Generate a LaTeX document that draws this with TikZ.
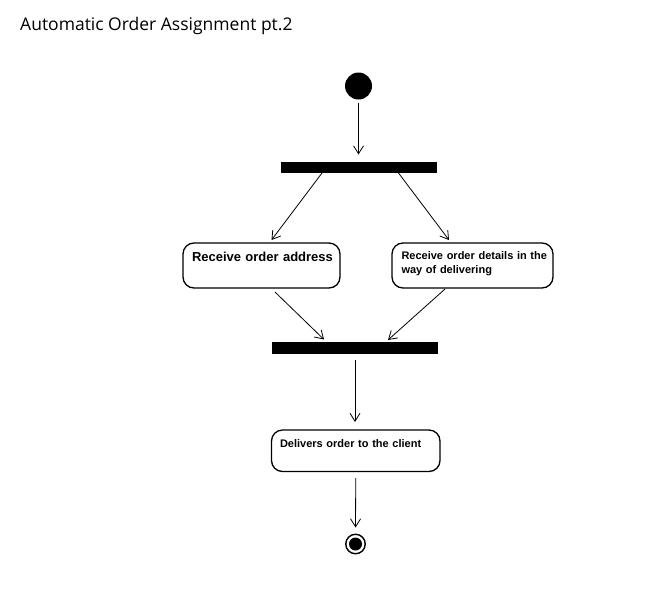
\documentclass[tikz,border=0pt]{standalone}
\usepackage{fontspec}
\setmainfont{Liberation Sans}
\newfontfamily\titlefont{Open Sans}
\usetikzlibrary{arrows.meta,calc}
\begin{document}
\begin{tikzpicture}[x=1pt,y=-1pt,
  arr/.style={draw, line width=0.8pt, -{Straight Barb[length=8pt,width=10pt,line width=0.8pt]}},
  syncbar/.style={fill=black, draw=none, inner sep=0pt, outer sep=0pt, anchor=north west},
  act/.style={draw, line width=1.3pt, rounded corners=11pt, anchor=north west, inner xsep=4pt, inner ysep=4pt, align=left, outer sep=0pt},
  acttext/.style={font=\bfseries\fontsize{11}{13.5}\selectfont}
]
\useasboundingbox (0,0) rectangle (660,603);
\node[anchor=base west, inner sep=0pt, font=\titlefont\fontsize{17.5}{21}\selectfont] (title) at (20,30) {Automatic Order Assignment pt.2};

\node[circle, fill=black, minimum size=27pt, inner sep=0pt] (start) at (358.5,86) {};
\node[syncbar, minimum width=156pt, minimum height=11pt] (fork) at (281,162) {};

\node[act, font=\bfseries\fontsize{13}{15}\selectfont, text width=149pt, text height=14.5pt, text depth=22.5pt] (b1) at (183,243) {\hspace*{5pt}Receive order address};
\node[act, acttext, text width=153pt, text height=12.5pt, text depth=24.5pt] (b2) at (392,243) {\hspace*{5.5pt}Receive order details in the\\\hspace*{5.5pt}way of delivering};

\node[syncbar, minimum width=166pt, minimum height=12pt] (join) at (272,342) {};

\node[act, acttext, text width=160.5pt, text height=13.5pt, text depth=20pt] (b3) at (271.5,430) {\hspace*{4.5pt}Delivers order to the client};

\node[circle, draw, line width=1.4pt, minimum size=19.5pt, inner sep=0pt,
  path picture={\fill[black] (path picture bounding box.center) circle[radius=6.5pt];}] (end) at (355.5,544) {};

\coordinate (f1) at ($(fork.south west)+(41,0)$);
\coordinate (f2) at ($(fork.south west)+(117.5,0)$);
\coordinate (b1in) at ($(b1.north west)+(88.5,-3)$);
\coordinate (b2in) at ($(b2.north west)+(57,-3)$);
\coordinate (b1out) at ($(b1.south west)+(92,4)$);
\coordinate (b2out) at ($(b2.south west)+(53,1)$);
\coordinate (j1) at ($(join.north west)+(52,-2.5)$);
\coordinate (j2) at ($(join.north west)+(116,-2)$);

\draw[arr, shorten <=3pt, shorten >=7.5pt] (start) -- (start |- fork.north);
\draw[arr] (f1) -- (b1in);
\draw[arr] (f2) -- (b2in);
\draw[arr] (b1out) -- (j1);
\draw[arr] (b2out) -- (j2);
\draw[arr, shorten <=6pt, shorten >=8pt] (join.south) -- (join.south |- b3.north);
\draw[arr, shorten <=6.5pt, shorten >=6pt] (b3.south) -- (end.north);
\end{tikzpicture}
\end{document}
